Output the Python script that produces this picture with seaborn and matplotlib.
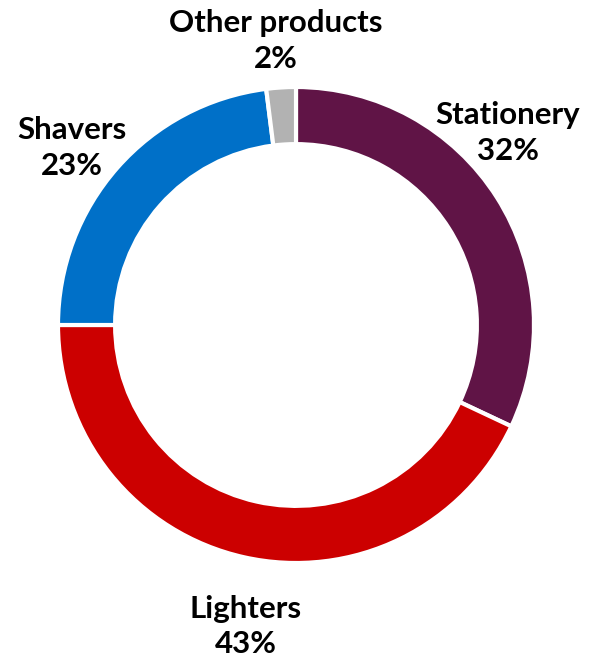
import numpy as np
import pandas as pd
import matplotlib
matplotlib.use("Agg")
import matplotlib.pyplot as plt
import seaborn as sns

# chart data
categories = ["Stationery", "Lighters", "Shavers", "Other products"]
shares = [32, 43, 23, 2]
colors = ["#601446", "#CC0000", "#0070C8", "#B2B2B2"]

# label anchor points (axes fraction)
label_pos = [(0.861, 0.799), (0.417, 0.052), (0.122, 0.776), (0.468, 0.938)]

sns.set_theme(style="white")
plt.rcParams["font.family"] = ["Lato", "DejaVu Sans"]

df = pd.DataFrame({"category": categories, "share": shares})

fig = plt.figure(figsize=(5.9, 6.61), dpi=100)
ax = fig.add_axes([0, 0, 1, 1])
ax.pie(df["share"], colors=colors, startangle=90, counterclock=False,
       radius=1, wedgeprops=dict(width=0.24, edgecolor="white", linewidth=3))

# place the ring: centre at (296, 325) px, radius 238 px
r_px = 238
ax.set_xlim(-296 / r_px, (590 - 296) / r_px)
ax.set_ylim(-(661 - 325) / r_px, 325 / r_px)
ax.set_aspect("auto")
ax.axis("off")

for (cat, val), (x, y) in zip(zip(df["category"], df["share"]), label_pos):
    ax.text(x, y, f"{cat}\n{val}%", transform=ax.transAxes, ha="center",
            va="center", fontsize=22.5, fontweight="bold", color="black",
            linespacing=1.32)

fig.savefig("out.png", dpi=100, facecolor="white")
